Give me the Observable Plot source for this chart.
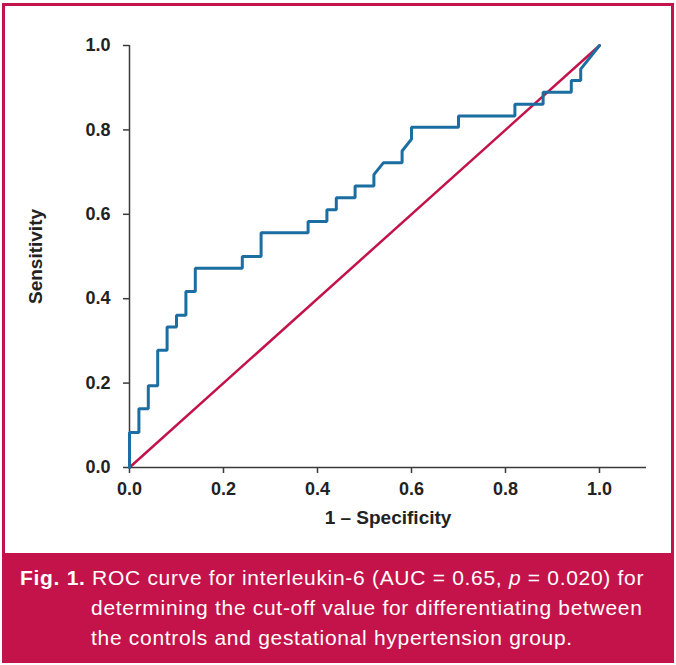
<!DOCTYPE html>
<html>
<head>
<meta charset="utf-8">
<script src="https://cdn.jsdelivr.net/npm/d3@7"></script>
<script src="https://cdn.jsdelivr.net/npm/@observablehq/plot@0.6"></script>
<style>
  html, body { margin: 0; padding: 0; background: #fff; }
  #frame {
    position: absolute; left: 2px; top: 3px; width: 672px; height: 660px;
    box-sizing: border-box; border: 3px solid #c4134a; background: #fff; overflow: hidden;
  }
  #chart svg { display: block; }
  #caption {
    position: absolute; left: 0; top: 547px; width: 666px; height: 107px;
    background: #c4134a; color: #fff;
    font-family: "Liberation Sans", Arial, sans-serif; font-size: 21px; letter-spacing: 0.7px;
    box-sizing: border-box; padding: 10px 0 0 86px; text-indent: -71px;
    line-height: 30px; white-space: nowrap;
  }
  #caption b { font-weight: bold; }
</style>
</head>
<body>
<div id="frame">
  <div id="chart"></div>
  <div id="caption"><b>Fig. 1.</b> ROC curve for interleukin-6 (AUC = 0.65, <i>p</i> = 0.020) for<br>determining the cut-off value for differentiating between<br>the controls and gestational hypertension group.</div>
</div>
<script>
// ROC curve points (1 - specificity, sensitivity)
const fpr = [0, 0, 0.02, 0.02, 0.04, 0.04, 0.06, 0.06, 0.08, 0.08, 0.10, 0.10, 0.12, 0.12, 0.14, 0.14,
  0.24, 0.24, 0.28, 0.28, 0.38, 0.38, 0.42, 0.42, 0.44, 0.44, 0.48, 0.48, 0.52, 0.52, 0.54, 0.58, 0.58,
  0.60, 0.60, 0.70, 0.70, 0.82, 0.82, 0.88, 0.88, 0.94, 0.94, 0.96, 0.96, 1.0];
const tpr = [0, 0.083, 0.083, 0.139, 0.139, 0.194, 0.194, 0.278, 0.278, 0.333, 0.333, 0.361, 0.361, 0.417, 0.417, 0.472,
  0.472, 0.500, 0.500, 0.556, 0.556, 0.583, 0.583, 0.611, 0.611, 0.639, 0.639, 0.667, 0.667, 0.694, 0.722, 0.722, 0.750,
  0.778, 0.806, 0.806, 0.833, 0.833, 0.861, 0.861, 0.889, 0.889, 0.917, 0.917, 0.944, 1.0];
// Reference (chance) diagonal
const refX = [0, 1];
const refY = [0, 1];
const tickValues = [0, 0.2, 0.4, 0.6, 0.8, 1.0];
const xLabel = "1 \u2013 Specificity";
const yLabel = "Sensitivity";

const roc = fpr.map((x, i) => ({x, y: tpr[i]}));
const diag = refX.map((x, i) => ({x, y: refY[i]}));

const blue = "#1b6ea1";
const crimson = "#c4134a";
const axisColor = "#3a3a3a";

const plot = Plot.plot({
  width: 666,
  height: 547,
  marginLeft: 124,
  marginRight: 25,
  marginTop: 39,
  marginBottom: 86,
  style: {fontFamily: "'Liberation Sans', Arial, sans-serif", fontSize: "18px", fontWeight: "bold", color: "#222", background: "white"},
  x: {domain: [0, 1.1]},
  y: {domain: [0, 1]},
  marks: [
    Plot.axisX({ticks: tickValues, tickFormat: d3.format(".1f"), tickSize: 6, tickPadding: 9, stroke: axisColor, strokeWidth: 1.5,
      label: null, fill: "#222", fontSize: 18}),
    Plot.axisX({ticks: [], label: xLabel, labelAnchor: "center", labelArrow: false, labelOffset: 56, fill: "#222", fontSize: 19}),
    Plot.axisY({ticks: tickValues, tickFormat: d3.format(".1f"), tickSize: 6, tickPadding: 13, stroke: axisColor, strokeWidth: 1.5,
      label: null, fill: "#222", fontSize: 18}),
    Plot.axisY({ticks: [], label: yLabel, labelAnchor: "center", labelArrow: false, labelOffset: 101, fill: "#222", fontSize: 19}),
    Plot.ruleY([0], {stroke: axisColor, strokeWidth: 1.5}),
    Plot.ruleX([0], {y1: 0, y2: 1, stroke: axisColor, strokeWidth: 1.5}),
    Plot.line(diag, {x: "x", y: "y", stroke: crimson, strokeWidth: 2.5}),
    Plot.line(roc, {x: "x", y: "y", stroke: blue, strokeWidth: 3, strokeLinejoin: "miter"})
  ]
});
document.getElementById("chart").appendChild(plot);
</script>
</body>
</html>
